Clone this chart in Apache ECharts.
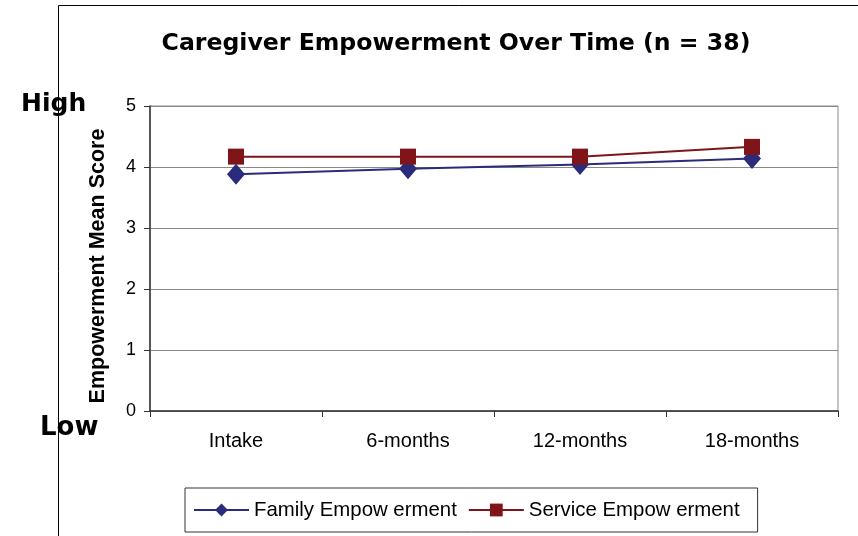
<!DOCTYPE html>
<html>
<head>
<meta charset="utf-8">
<script src="https://cdn.jsdelivr.net/npm/echarts@6/dist/echarts.min.js"></script>
<style>
  html, body { margin: 0; padding: 0; background: #fff; }
  #chart { width: 858px; height: 536px; }
</style>
</head>
<body>
<div id="chart"></div>
<script>
  // values
  let categories = ['Intake', '6-months', '12-months', '18-months'];
  let familyScores = [3.88, 3.97, 4.04, 4.14];
  let serviceScores = [4.17, 4.17, 4.17, 4.33];
  let yTicks = [0, 1, 2, 3, 4, 5];

  let chart = echarts.init(document.getElementById('chart'));

  let option = {
    backgroundColor: '#fff',
    animation: false,
    title: {
      text: 'Caregiver Empowerment Over Time (n = 38)',
      left: 451,
      textAlign: 'center',
      top: 27,
      textStyle: {
        fontFamily: 'DejaVu Sans',
        fontWeight: 'bold',
        fontSize: 23.6,
        color: '#000'
      }
    },
    graphic: [
      {
        type: 'rect',
        shape: {x: 58.5, y: 5.5, width: 820, height: 560},
        style: {fill: 'none', stroke: '#000', lineWidth: 1},
        z: -1
      },
      {
        type: 'text',
        x: 21, y: 104,
        style: {text: 'High', font: 'bold 25px "DejaVu Sans"', fill: '#000', verticalAlign: 'middle'}
      },
      {
        type: 'text',
        x: 40, y: 428,
        style: {text: 'Low', font: 'bold 26px "DejaVu Sans"', fill: '#000', verticalAlign: 'middle'}
      },
      {
        // y axis title, placed by hand like the original
        type: 'text',
        x: 98, y: 266,
        rotation: Math.PI / 2,
        style: {
          text: 'Empowerment Mean Score',
          font: 'bold 21.5px "Liberation Sans"',
          fill: '#000',
          align: 'center',
          verticalAlign: 'middle'
        }
      }
    ],
    legend: {
      left: 185,
      top: 488,
      padding: [12, 18, 12, 8],
      itemGap: 11,
      itemWidth: 55,
      itemHeight: 16,
      borderColor: '#333',
      borderWidth: 1,
      textStyle: {
        fontFamily: 'Liberation Sans',
        fontSize: 20.4,
        color: '#000'
      },
      data: ['Family Empow erment', 'Service Empow erment']
    },
    grid: {
      left: 150,
      top: 106,
      right: 20,
      bottom: 125,
      show: true,
      borderColor: '#888',
      borderWidth: 1
    },
    xAxis: {
      type: 'category',
      data: categories,
      boundaryGap: true,
      axisLine: {lineStyle: {color: '#333', width: 1.5}},
      axisTick: {show: true, length: 6, lineStyle: {color: '#333'}},
      axisLabel: {
        margin: 20,
        fontFamily: 'Liberation Sans',
        fontSize: 20,
        color: '#000'
      }
    },
    yAxis: {
      type: 'value',
      min: yTicks[0],
      max: yTicks[yTicks.length - 1],
      interval: 1,
      axisLine: {show: true, lineStyle: {color: '#333', width: 1.5}},
      axisTick: {show: true, length: 6, lineStyle: {color: '#333'}},
      axisLabel: {
        margin: 14,
        fontFamily: 'Liberation Sans',
        fontSize: 18,
        color: '#000'
      },
      splitLine: {lineStyle: {color: '#888', width: 1}}
    },
    series: [
      {
        name: 'Family Empow erment',
        type: 'line',
        data: familyScores,
        symbol: 'diamond',
        symbolSize: [18, 21],
        color: '#2b2b7c',
        lineStyle: {color: '#2b2b7c', width: 2}
      },
      {
        name: 'Service Empow erment',
        type: 'line',
        data: serviceScores,
        symbol: 'rect',
        symbolSize: 16,
        color: '#7f1518',
        lineStyle: {color: '#7f1518', width: 2}
      }
    ]
  };

  chart.setOption(option);
</script>
</body>
</html>
